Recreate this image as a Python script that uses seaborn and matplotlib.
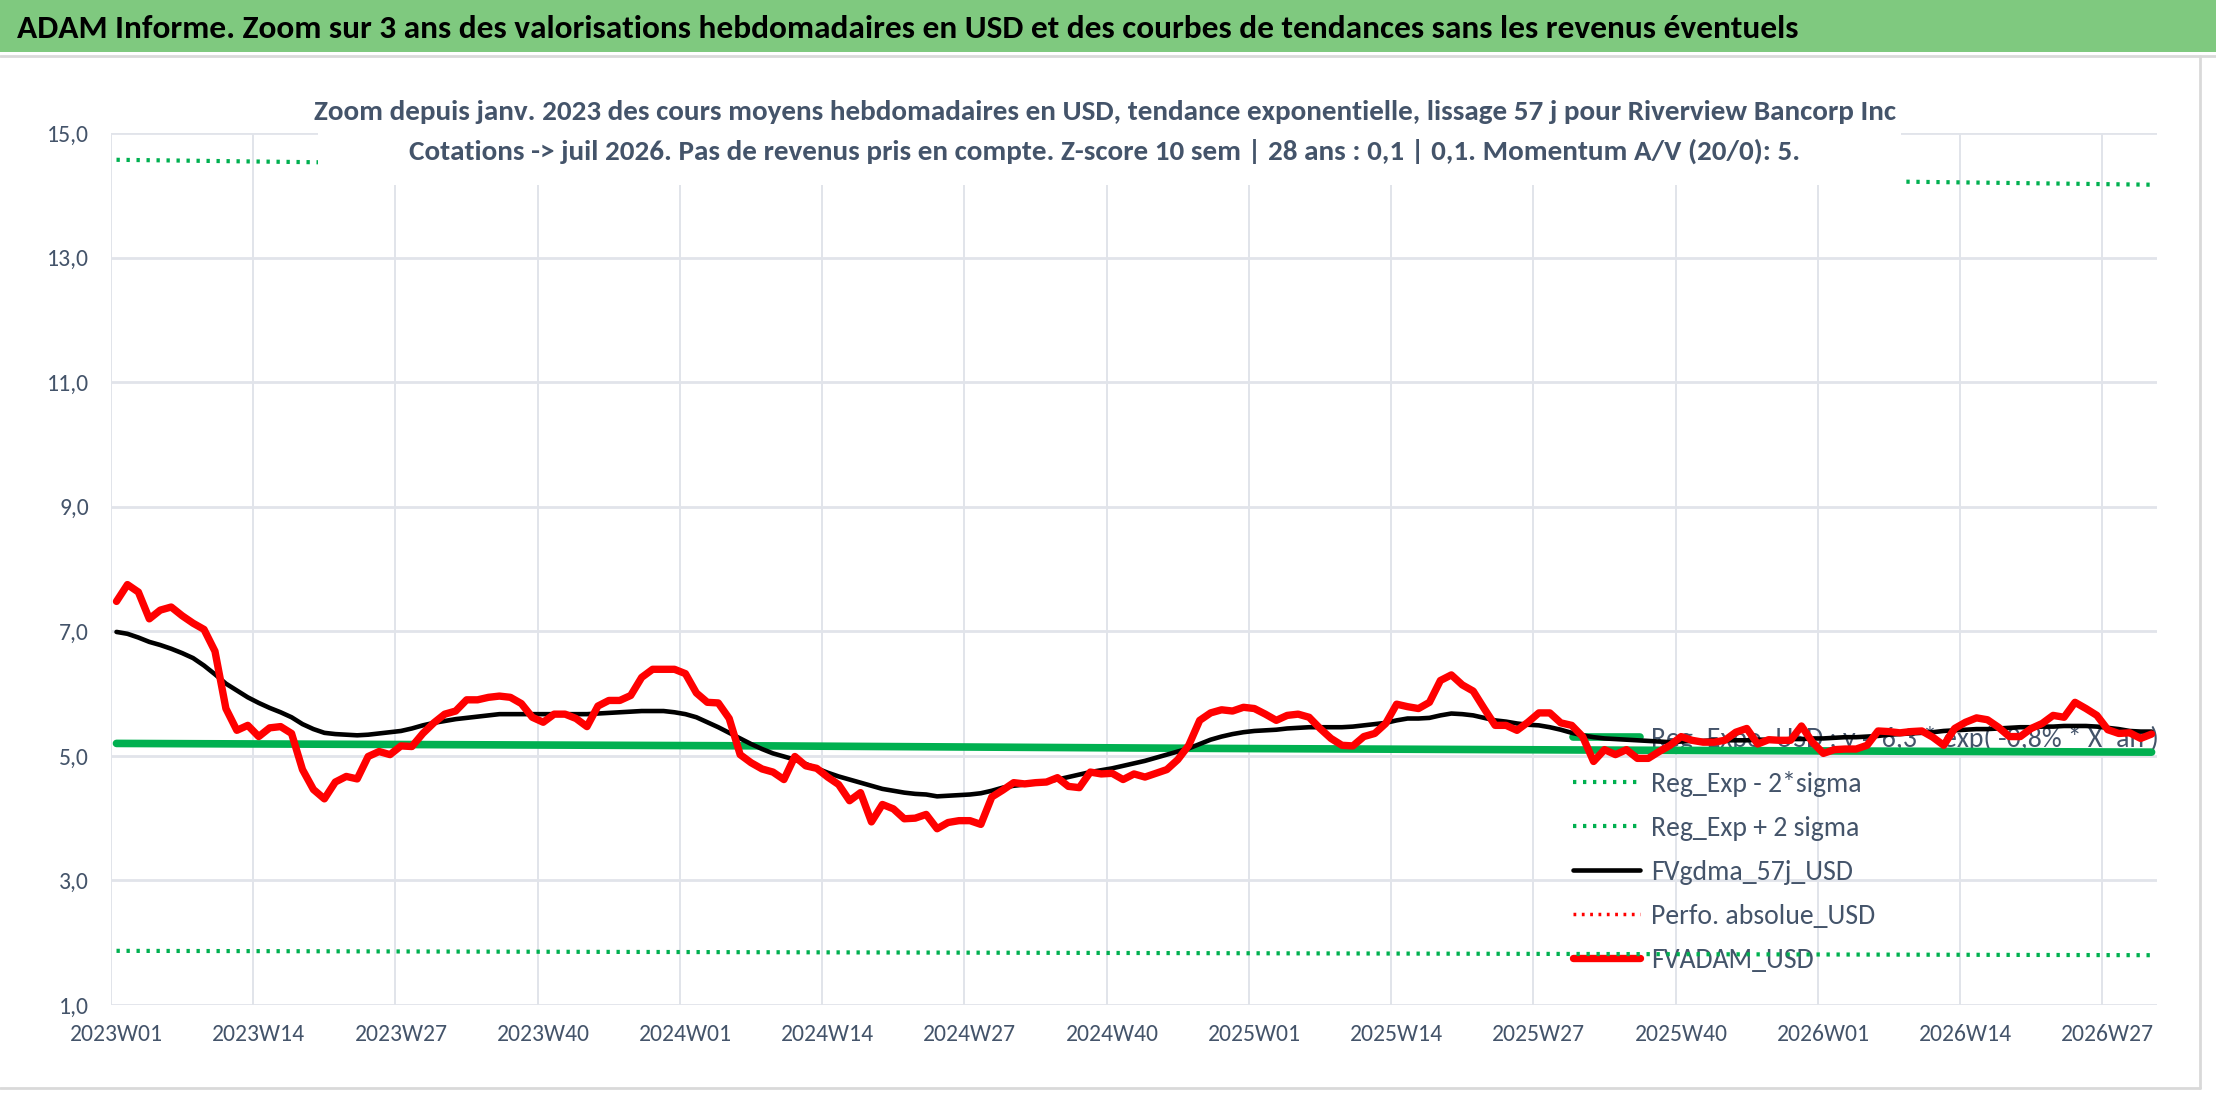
import matplotlib
matplotlib.use("Agg")
import matplotlib.pyplot as plt
import seaborn as sns
import pandas as pd
import numpy as np
from matplotlib.patches import Rectangle
from matplotlib.lines import Line2D
from matplotlib.ticker import FuncFormatter

# weekly values, 2023W01 .. 2026W31 (187 weeks)
fvadam_usd = [
    7.48, 7.75, 7.63, 7.20, 7.34, 7.39, 7.25, 7.13, 7.03, 6.68, 5.76, 5.41, 5.49, 5.31, 5.45, 5.47,
    5.36, 4.78, 4.46, 4.31, 4.58, 4.67, 4.63, 4.99, 5.07, 5.02, 5.16, 5.15, 5.36, 5.53, 5.67, 5.72,
    5.90, 5.90, 5.94, 5.96, 5.94, 5.84, 5.62, 5.54, 5.67, 5.67, 5.60, 5.47, 5.80, 5.89, 5.89, 5.97,
    6.26, 6.39, 6.39, 6.39, 6.32, 6.01, 5.86, 5.85, 5.60, 5.02, 4.89, 4.79, 4.74, 4.62, 4.99, 4.84,
    4.80, 4.66, 4.54, 4.28, 4.41, 3.94, 4.22, 4.15, 3.99, 4.00, 4.06, 3.83, 3.93, 3.96, 3.96, 3.90,
    4.34, 4.45, 4.57, 4.55, 4.57, 4.58, 4.65, 4.51, 4.49, 4.74, 4.71, 4.72, 4.62, 4.71, 4.66, 4.72,
    4.78, 4.94, 5.17, 5.57, 5.69, 5.74, 5.72, 5.78, 5.76, 5.67, 5.57, 5.65, 5.67, 5.62, 5.44, 5.28,
    5.17, 5.16, 5.31, 5.36, 5.52, 5.83, 5.79, 5.76, 5.86, 6.21, 6.30, 6.14, 6.04, 5.76, 5.49, 5.49,
    5.41, 5.54, 5.69, 5.69, 5.53, 5.49, 5.31, 4.91, 5.10, 5.02, 5.10, 4.96, 4.96, 5.07, 5.17, 5.31,
    5.25, 5.22, 5.22, 5.25, 5.38, 5.44, 5.19, 5.26, 5.25, 5.25, 5.48, 5.22, 5.04, 5.10, 5.11, 5.11,
    5.17, 5.40, 5.39, 5.37, 5.39, 5.40, 5.30, 5.17, 5.44, 5.54, 5.61, 5.58, 5.46, 5.31, 5.31, 5.44,
    5.52, 5.65, 5.62, 5.86, 5.76, 5.65, 5.42, 5.36, 5.37, 5.28, 5.35,
]

fvgdma_57j_usd = [
    6.99, 6.96, 6.90, 6.83, 6.78, 6.72, 6.65, 6.57, 6.45, 6.31, 6.16, 6.05, 5.94, 5.85, 5.77, 5.70,
    5.62, 5.51, 5.43, 5.37, 5.35, 5.34, 5.33, 5.34, 5.36, 5.38, 5.40, 5.44, 5.49, 5.53, 5.56, 5.59,
    5.61, 5.63, 5.65, 5.67, 5.67, 5.67, 5.67, 5.67, 5.67, 5.67, 5.67, 5.67, 5.68, 5.69, 5.70, 5.71,
    5.72, 5.72, 5.72, 5.70, 5.67, 5.62, 5.54, 5.46, 5.37, 5.28, 5.19, 5.11, 5.04, 4.99, 4.94, 4.87,
    4.80, 4.73, 4.67, 4.62, 4.57, 4.52, 4.47, 4.44, 4.41, 4.39, 4.38, 4.35, 4.36, 4.37, 4.38, 4.40,
    4.44, 4.49, 4.52, 4.54, 4.57, 4.59, 4.62, 4.66, 4.70, 4.74, 4.77, 4.80, 4.84, 4.88, 4.92, 4.97,
    5.02, 5.07, 5.12, 5.19, 5.26, 5.31, 5.35, 5.38, 5.40, 5.41, 5.42, 5.44, 5.45, 5.46, 5.46, 5.46,
    5.46, 5.47, 5.49, 5.51, 5.53, 5.57, 5.60, 5.60, 5.61, 5.65, 5.68, 5.67, 5.65, 5.61, 5.57, 5.55,
    5.52, 5.50, 5.49, 5.46, 5.42, 5.37, 5.33, 5.30, 5.28, 5.27, 5.26, 5.25, 5.24, 5.23, 5.22, 5.23,
    5.24, 5.24, 5.25, 5.25, 5.25, 5.25, 5.26, 5.26, 5.26, 5.27, 5.27, 5.28, 5.28, 5.29, 5.30, 5.30,
    5.31, 5.32, 5.34, 5.35, 5.36, 5.37, 5.38, 5.40, 5.41, 5.42, 5.43, 5.43, 5.44, 5.45, 5.46, 5.46,
    5.47, 5.47, 5.48, 5.48, 5.48, 5.47, 5.45, 5.43, 5.40, 5.39, 5.39,
]

# regression and sigma bands, read at a few weeks
reg_weeks = [0, 60, 100, 140, 186]
reg_expo_usd = [5.20, 5.16, 5.12, 5.09, 5.06]
band_weeks = [0, 186]
reg_minus_2sigma = [1.87, 1.80]
reg_plus_2sigma = [14.57, 14.17]

tick_labels = ["2023W01", "2023W14", "2023W27", "2023W40", "2024W01", "2024W14", "2024W27",
               "2024W40", "2025W01", "2025W14", "2025W27", "2025W40", "2026W01", "2026W14",
               "2026W27"]

title = ("ADAM Informe. Zoom sur 3 ans des valorisations hebdomadaires en USD et des courbes "
         "de tendances sans les revenus éventuels")
subtitle = ("Zoom depuis janv. 2023 des cours moyens hebdomadaires en USD, tendance exponentielle, "
            "lissage 57 j pour Riverview Bancorp Inc\n"
            "Cotations -> juil 2026. Pas de revenus pris en compte. Z-score 10 sem | 28 ans : 0,1 | 0,1. "
            "Momentum A/V (20/0): 5.")

sns.set_theme(style="white")
plt.rcParams['font.family'] = ['Carlito', 'DejaVu Sans']

GREEN = "#00B050"
RED = "#FF0000"
TXT = "#44546A"
GRID = "#E1E4EA"

weeks = np.arange(len(fvadam_usd))
df = pd.DataFrame({"week": weeks, "fvadam": fvadam_usd, "gdma": fvgdma_57j_usd})

fig = plt.figure(figsize=(22.16, 11.02), dpi=100)
ax = fig.add_axes([0.0501, 0.0880, 0.9233, 0.7913])

dots = (0, (0.8, 1.6))
sns.lineplot(x=reg_weeks, y=reg_expo_usd, ax=ax, color=GREEN, lw=5.5, zorder=3,
             label="Reg_Expo_USD : y = 6,3 * exp( -0,8% * X_an )")
sns.lineplot(x=band_weeks, y=reg_minus_2sigma, ax=ax, color=GREEN, lw=3, ls=dots, zorder=3,
             label="Reg_Exp - 2*sigma")
sns.lineplot(x=band_weeks, y=reg_plus_2sigma, ax=ax, color=GREEN, lw=3, ls=dots, zorder=3,
             label="Reg_Exp + 2 sigma")
sns.lineplot(data=df, x="week", y="gdma", ax=ax, color="black", lw=3.3, zorder=4,
             label="FVgdma_57j_USD")
ax.plot([], [], color=RED, lw=2.5, ls=dots, label="Perfo. absolue_USD")
sns.lineplot(data=df, x="week", y="fvadam", ax=ax, color=RED, lw=5.3, zorder=5,
             label="FVADAM_USD")

ax.set_xlim(-0.5, len(weeks) - 0.5)
ax.set_ylim(1, 15)
ax.set_yticks(np.arange(1, 16, 2))
ax.yaxis.set_major_formatter(FuncFormatter(lambda v, p: f"{v:.1f}".replace(".", ",")))
label_pos = np.arange(len(tick_labels)) * 13
ax.set_xticks(label_pos)
ax.set_xticklabels(tick_labels)
ax.set_xticks(label_pos - 0.5, minor=True)
ax.set_xlabel("")
ax.set_ylabel("")

ax.grid(False)
ax.grid(True, which="minor", axis="x", color=GRID, lw=1.4)
ax.grid(True, which="major", axis="y", color=GRID, lw=2)
ax.set_axisbelow(True)
for s in ax.spines.values():
    s.set_visible(False)
ax.tick_params(axis="x", which="major", length=0, pad=14, labelsize=17, labelcolor=TXT)
ax.tick_params(axis="x", which="minor", length=7, width=1.4, color=GRID, direction="out")
ax.tick_params(axis="y", length=0, pad=16, labelsize=17, labelcolor=TXT)

leg = ax.legend(loc="upper left", bbox_to_anchor=(1573 / 2216, 1 - 726 / 1102),
                bbox_transform=fig.transFigure, frameon=False, fontsize=20,
                handlelength=2.4, handletextpad=0.4, labelspacing=0.68,
                borderpad=0, borderaxespad=0)
for t in leg.get_texts():
    t.set_color(TXT)
leg.set_zorder(1)

# header band
fig.patches.append(Rectangle((0, 1 - 52 / 1102), 1, 52 / 1102, transform=fig.transFigure,
                             facecolor="#7FC97F", edgecolor="none", zorder=0))
fig.add_artist(Line2D([0, 1], [1 - 56 / 1102] * 2, color="#D9D9D9", lw=2))
fig.add_artist(Line2D([0, 0.993], [1 - 1088 / 1102] * 2, color="#D9D9D9", lw=2))
fig.add_artist(Line2D([0.993, 0.993], [1 - 1088 / 1102, 1 - 56 / 1102], color="#D9D9D9", lw=2))
fig.text(17 / 2216, 1 - 29 / 1102, title, ha="left", va="center", fontsize=24,
         fontweight="bold", color="black")

# white box of the chart title, over the plot area
fig.patches.append(Rectangle((318 / 2216, 1 - 185 / 1102), (1901 - 318) / 2216, 97 / 1102,
                             transform=fig.transFigure, facecolor="white", edgecolor="none",
                             zorder=9))
fig.text(1105 / 2216, 1 - 132 / 1102, subtitle, ha="center", va="center", fontsize=21,
         fontweight="bold", color=TXT, linespacing=1.65, multialignment="center", zorder=10)

fig.savefig("out.png", dpi=100, facecolor="white")
